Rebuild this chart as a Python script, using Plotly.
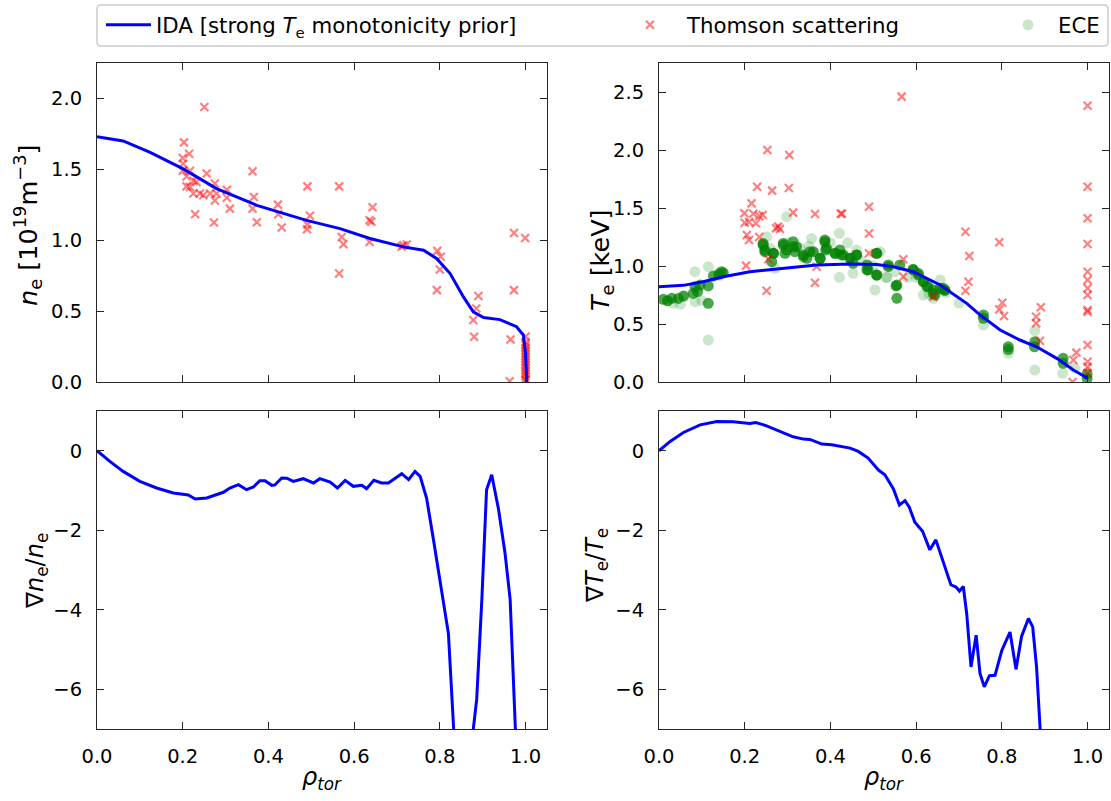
import plotly.graph_objects as go

W, H = 1111, 801
FONT = "DejaVu Sans"

# ---------------- data ----------------
# IDA n_e profile [1e19 m^-3]
ne_rho = [0.0, 0.061, 0.124, 0.2, 0.279, 0.373, 0.489, 0.567, 0.637, 0.715, 0.762, 0.793,
          0.824, 0.855, 0.878, 0.902, 0.94, 0.979, 0.995, 1.0, 1.002, 1.004]
ne_fit = [1.73, 1.70, 1.62, 1.505, 1.364, 1.246, 1.14, 1.082, 1.012, 0.953, 0.93, 0.87,
          0.765, 0.60, 0.495, 0.455, 0.44, 0.39, 0.33, 0.2, 0.05, -0.1]

# Thomson scattering n_e
ts_ne_rho = [0.2505, 0.203, 0.215, 0.2, 0.201, 0.2, 0.217, 0.209, 0.225, 0.209, 0.256, 0.275,
             0.232, 0.217, 0.225, 0.24, 0.248, 0.264, 0.279, 0.275, 0.303, 0.303, 0.31, 0.229,
             0.273, 0.363, 0.366, 0.363, 0.373, 0.422, 0.423, 0.431, 0.491, 0.497, 0.491, 0.49,
             0.565, 0.571, 0.575, 0.565, 0.643, 0.636, 0.64, 0.636, 0.715, 0.723, 0.711, 0.794,
             0.802, 0.8, 0.793, 0.89, 0.885, 0.878, 0.88, 0.973, 0.999, 0.973, 0.965, 0.963,
             1.0, 1.0, 1.0, 1.0, 1.0, 1.0, 1.0, 1.0, 1.0, 1.0, 1.0, 1.0, 1.0, 1.0, 1.0, 1.0]
ts_ne = [1.94, 1.69, 1.61, 1.58, 1.54, 1.49, 1.49, 1.45, 1.42, 1.38, 1.47, 1.40,
         1.41, 1.375, 1.33, 1.33, 1.317, 1.33, 1.33, 1.28, 1.355, 1.30, 1.223, 1.183,
         1.125, 1.486, 1.305, 1.223, 1.127, 1.251, 1.183, 1.09, 1.38, 1.172, 1.11, 1.077,
         1.38, 1.023, 0.972, 0.765, 1.233, 1.141, 1.13, 0.988, 0.965, 0.97, 0.955, 0.925,
         0.883, 0.794, 0.648, 0.606, 0.519, 0.437, 0.319, 1.051, 1.016, 0.648, 0.30, 0.005,
         0.32, 0.28, 0.26, 0.24, 0.22, 0.20, 0.18, 0.16, 0.14, 0.12, 0.10, 0.08, 0.06, 0.04, 0.02, 0.01]

# IDA T_e profile [keV]
te_rho = [0.0, 0.057, 0.103, 0.15, 0.212, 0.29, 0.368, 0.446, 0.508, 0.547, 0.593, 0.656,
          0.718, 0.749, 0.796, 0.842, 0.881, 0.928, 0.967, 0.994, 1.0]
te_fit = [0.822, 0.833, 0.865, 0.908, 0.951, 0.98, 1.009, 1.017, 1.012, 0.994, 0.951, 0.836,
          0.678, 0.578, 0.448, 0.362, 0.304, 0.204, 0.103, 0.046, 0.03]

# Thomson scattering T_e
ts_te_rho = [0.566, 0.253, 0.304, 0.229, 0.264, 0.303, 0.216, 0.199, 0.22, 0.234, 0.242, 0.2,
             0.21, 0.226, 0.313, 0.364, 0.424, 0.427, 0.49, 0.49, 0.205, 0.21, 0.234, 0.273,
             0.278, 0.282, 0.715, 0.724, 0.722, 0.715, 0.794, 0.801, 0.794, 0.805, 0.891, 0.88,
             0.88, 0.889, 0.974, 0.967, 0.965, 0.203, 0.251, 0.364, 0.57, 0.57, 0.49, 0.368,
             0.255, 0.64,
             1.0, 1.0, 1.0, 1.0, 1.0, 1.0, 1.0, 1.0, 1.0, 1.0, 1.0, 1.0, 1.0, 1.0]
ts_te = [2.46, 2.0, 1.957, 1.684, 1.65, 1.672, 1.54, 1.454, 1.45, 1.43, 1.44, 1.373,
         1.38, 1.368, 1.46, 1.448, 1.45, 1.45, 1.51, 1.28, 1.267, 1.224, 1.25, 1.325,
         1.34, 1.32, 1.296, 1.086, 0.865, 0.787, 1.204, 0.684, 0.626, 0.569, 0.644, 0.563,
         0.506, 0.356, 0.253, 0.19, 0.0, 1.003, 0.787, 0.856, 1.058, 0.908, 1.11, 0.994,
         1.058, 0.736,
         2.382, 1.684, 1.411, 1.19, 0.951, 0.879, 0.808, 0.75, 0.621, 0.606, 0.319, 0.175, 0.132, 0.075]

# ECE T_e (densely overlapping channels)
ece_dense_rho = [0.01, 0.03, 0.057, 0.08, 0.084, 0.096, 0.115, 0.127, 0.146, 0.115, 0.243, 0.247,
                 0.267, 0.263, 0.29, 0.294, 0.313, 0.317, 0.337, 0.345, 0.36, 0.376, 0.387, 0.389,
                 0.411, 0.422, 0.43, 0.446, 0.461, 0.485, 0.486, 0.508, 0.508, 0.535, 0.555, 0.555,
                 0.562, 0.593, 0.605, 0.617, 0.625, 0.64, 0.644, 0.663, 0.667, 0.757, 0.757, 0.815,
                 0.815, 0.877, 0.876, 0.943, 0.943, 0.999, 0.999,
                 0.243, 0.247, 0.267, 0.29, 0.298, 0.313, 0.321, 0.337, 0.352, 0.376, 0.387, 0.391,
                 0.411, 0.426, 0.446, 0.461, 0.453, 0.488, 0.508, 0.508, 0.535, 0.553, 0.593, 0.605,
                 0.617, 0.628, 0.64, 0.656, 0.667, 0.02, 0.045, 0.09, 0.14, 0.15]
ece_dense = [0.713, 0.721, 0.741, 0.764, 0.822, 0.836, 0.828, 0.914, 0.951, 0.678, 1.181, 1.123,
             1.109, 1.037, 1.181, 1.109, 1.166, 1.123, 1.095, 1.066, 1.123, 1.066, 1.209, 1.138,
             1.109, 1.138, 1.095, 1.066, 1.095, 0.966, 1.009, 1.109, 0.922, 0.994, 0.836, 0.721,
             1.009, 0.966, 0.922, 0.865, 0.822, 0.793, 0.75, 0.808, 0.79, 0.578, 0.549, 0.304,
             0.28, 0.348, 0.304, 0.204, 0.161, 0.069, 0.03,
             1.195, 1.138, 1.109, 1.195, 1.138, 1.21, 1.166, 1.08, 1.123, 1.066, 1.224, 1.152,
             1.109, 1.095, 1.066, 1.095, 1.023, 0.966, 1.109, 0.922, 1.009, 0.828, 0.971, 0.937,
             0.865, 0.822, 0.764, 0.808, 0.793, 0.70, 0.72, 0.78, 0.93, 0.94]
ece_faint_rho = [0.115, 0.084, 0.084, 0.115, 0.033, 0.298, 0.271, 0.356, 0.421, 0.421, 0.461, 0.504,
                 0.531, 0.251, 0.453, 0.877, 0.877, 0.942, 0.531, 0.617, 0.656, 0.757, 0.815, 0.516,
                 0.02, 0.06, 0.14, 0.33, 0.40, 0.47, 0.58, 0.64, 0.70, 0.97,
                 0.26, 0.30, 0.35, 0.44, 0.50, 0.60, 0.63, 0.67, 0.05, 0.10, 0.36, 0.55]
ece_faint = [0.362, 0.951, 0.692, 0.994, 0.678, 1.425, 0.98, 1.238, 1.282, 0.902, 1.138, 0.793,
             0.902, 1.253, 0.937, 0.442, 0.103, 0.075, 0.9, 0.75, 0.879, 0.491, 0.247, 1.123,
             0.70, 0.74, 0.92, 1.15, 1.20, 1.05, 0.90, 0.72, 0.68, 0.12,
             1.15, 1.20, 1.17, 1.20, 1.00, 0.90, 0.76, 0.77, 0.67, 0.70, 1.12, 0.95]

# normalised gradients
dne_rho = [0.0, 0.03, 0.061, 0.1, 0.139, 0.178, 0.213, 0.229, 0.256, 0.295, 0.31, 0.33, 0.349,
           0.365, 0.38, 0.392, 0.408, 0.415, 0.431, 0.443, 0.458, 0.481, 0.505, 0.52, 0.544,
           0.561, 0.579, 0.598, 0.618, 0.629, 0.646, 0.664, 0.68, 0.711, 0.727, 0.742, 0.754,
           0.769, 0.785, 0.8, 0.82, 0.832, 0.836, 0.855, 0.875, 0.878, 0.886, 0.898, 0.909,
           0.921, 0.937, 0.952, 0.964, 0.976, 0.98]
dne = [0.0, -0.268, -0.519, -0.77, -0.937, -1.062, -1.113, -1.213, -1.188, -1.045, -0.937,
       -0.853, -0.979, -0.912, -0.753, -0.753, -0.87, -0.86, -0.686, -0.69, -0.77, -0.703,
       -0.811, -0.703, -0.786, -0.937, -0.745, -0.895, -0.87, -0.954, -0.745, -0.811, -0.811,
       -0.577, -0.728, -0.519, -0.644, -1.188, -2.233, -3.237, -4.6, -6.96, -8.0, -15.0,
       -8.0, -7.0, -6.25, -3.74, -0.979, -0.602, -1.48, -2.57, -3.74, -6.96, -8.0]

dte_rho = [0.0, 0.026, 0.057, 0.096, 0.135, 0.173, 0.212, 0.226, 0.251, 0.29, 0.313, 0.337,
           0.352, 0.38, 0.403, 0.446, 0.465, 0.488, 0.512, 0.527, 0.547, 0.561, 0.574, 0.584,
           0.597, 0.615, 0.632, 0.646, 0.66, 0.681, 0.693, 0.701, 0.71, 0.718, 0.728, 0.74,
           0.749, 0.759, 0.771, 0.784, 0.8, 0.819, 0.833, 0.846, 0.862, 0.872, 0.881, 0.891, 0.9]
dte = [0.0, 0.234, 0.46, 0.652, 0.736, 0.728, 0.686, 0.711, 0.627, 0.46, 0.351, 0.293,
       0.285, 0.167, 0.15, 0.067, -0.017, -0.184, -0.485, -0.602, -0.962, -1.364, -1.255,
       -1.422, -1.8, -2.025, -2.493, -2.242, -2.677, -3.371, -3.43, -3.53, -3.413, -4.1,
       -5.44, -4.64, -5.6, -5.94, -5.66, -5.65, -5.02, -4.56, -5.5, -4.67, -4.22, -4.43,
       -5.44, -6.98, -9.0]

# tick values
x_ticks = [0.0, 0.2, 0.4, 0.6, 0.8, 1.0]
ne_ticks = [0.0, 0.5, 1.0, 1.5, 2.0]
te_ticks = [0.0, 0.5, 1.0, 1.5, 2.0, 2.5]
grad_ticks = [-6, -4, -2, 0]

# ---------------- figure ----------------
BLUE = "#0000ff"
TS_COL = "rgba(255,0,0,0.5)"

fig = go.Figure()

ts_marker = dict(symbol="x-thin", size=8, line=dict(width=2.2, color=TS_COL), color=TS_COL)

# top-left
fig.add_trace(go.Scatter(x=ts_ne_rho, y=ts_ne, mode="markers", marker=ts_marker,
                         xaxis="x", yaxis="y", showlegend=False))
fig.add_trace(go.Scatter(x=ne_rho, y=ne_fit, mode="lines", line=dict(color=BLUE, width=3),
                         xaxis="x", yaxis="y", showlegend=False))

# top-right
fig.add_trace(go.Scatter(x=ece_faint_rho, y=ece_faint, mode="markers",
                         marker=dict(symbol="circle", size=11, color="rgba(0,128,0,0.2)"),
                         xaxis="x2", yaxis="y2", name="ECE", legend="legend3", showlegend=True))
fig.add_trace(go.Scatter(x=ece_dense_rho, y=ece_dense, mode="markers",
                         marker=dict(symbol="circle", size=11, color="rgba(0,128,0,0.7)"),
                         xaxis="x2", yaxis="y2", showlegend=False))
fig.add_trace(go.Scatter(x=ts_te_rho, y=ts_te, mode="markers", marker=ts_marker,
                         xaxis="x2", yaxis="y2", name="Thomson scattering", legend="legend2",
                         showlegend=True))
fig.add_trace(go.Scatter(x=te_rho, y=te_fit, mode="lines", line=dict(color=BLUE, width=3),
                         xaxis="x2", yaxis="y2",
                         name="IDA [strong <i>T</i><sub>e</sub> monotonicity prior]",
                         legend="legend", showlegend=True))

# bottom
fig.add_trace(go.Scatter(x=dne_rho, y=dne, mode="lines", line=dict(color=BLUE, width=3),
                         xaxis="x3", yaxis="y3", showlegend=False))
fig.add_trace(go.Scatter(x=dte_rho, y=dte, mode="lines", line=dict(color=BLUE, width=3),
                         xaxis="x4", yaxis="y4", showlegend=False))

AX = dict(showline=True, linecolor="#262626", linewidth=1.1, mirror="ticks", ticks="inside",
          ticklen=7, tickwidth=1.1, tickcolor="#262626", showgrid=False, zeroline=False,
          automargin=False,
          tickfont=dict(family=FONT, size=19.5, color="black"), ticklabelstandoff=10)

xl = [97 / W, 547 / W]
xr = [659 / W, 1109 / W]
yt = [1 - 382 / H, 1 - 63 / H]
yb = [1 - 729 / H, 1 - 411 / H]

LEGFONT = dict(family=FONT, size=21.3, color="black")
fig.update_layout(
    width=W, height=H, margin=dict(l=0, r=0, t=0, b=0, autoexpand=False),
    paper_bgcolor="white", plot_bgcolor="white",
    font=dict(family=FONT, size=19, color="black"),
    xaxis=dict(AX, domain=xl, anchor="y", range=[0, 1.05], tickvals=x_ticks, showticklabels=False),
    yaxis=dict(AX, domain=yt, anchor="x", range=[0, 2.25], tickvals=ne_ticks, tickformat=".1f"),
    xaxis2=dict(AX, domain=xr, anchor="y2", range=[0, 1.05], tickvals=x_ticks, showticklabels=False),
    yaxis2=dict(AX, domain=yt, anchor="x2", range=[0, 2.75], tickvals=te_ticks, tickformat=".1f"),
    xaxis3=dict(AX, domain=xl, anchor="y3", range=[0, 1.05], tickvals=x_ticks, tickformat=".1f"),
    yaxis3=dict(AX, domain=yb, anchor="x3", range=[-7, 1], tickvals=grad_ticks),
    xaxis4=dict(AX, domain=xr, anchor="y4", range=[0, 1.05], tickvals=x_ticks, tickformat=".1f"),
    yaxis4=dict(AX, domain=yb, anchor="x4", range=[-7, 1], tickvals=grad_ticks),
    legend=dict(x=101 / W, y=1 - 25 / H, xanchor="left", yanchor="middle", orientation="h",
                bgcolor="rgba(0,0,0,0)", borderwidth=0, itemwidth=45, font=LEGFONT),
    legend2=dict(x=613 / W, y=1 - 25 / H, xanchor="left", yanchor="middle", orientation="h",
                 bgcolor="rgba(0,0,0,0)", borderwidth=0, itemwidth=64, font=LEGFONT),
    legend3=dict(x=998 / W, y=1 - 25 / H, xanchor="left", yanchor="middle", orientation="h",
                 bgcolor="rgba(0,0,0,0)", borderwidth=0, itemwidth=50, font=LEGFONT),
)

# legend frame (rounded)
x0, x1, y0, y1 = 97 / W, 1108 / W, 1 - 46 / H, 1 - 5 / H
rx, ry = 4 / W, 4 / H
path = (f"M {x0+rx},{y1} L {x1-rx},{y1} Q {x1},{y1} {x1},{y1-ry} L {x1},{y0+ry} "
        f"Q {x1},{y0} {x1-rx},{y0} L {x0+rx},{y0} Q {x0},{y0} {x0},{y0+ry} "
        f"L {x0},{y1-ry} Q {x0},{y1} {x0+rx},{y1} Z")
fig.add_shape(type="path", path=path, xref="paper", yref="paper",
              line=dict(color="#cccccc", width=1.5), fillcolor="rgba(255,255,255,0)", layer="below")

TF_BIG = dict(family=FONT, size=25.5, color="black")
TF = dict(family=FONT, size=24, color="black")
ann = [
    dict(text="<i>n</i><sub>e</sub> [10<sup>19</sup>m<sup>−3</sup>]", x=27 / W, y=1 - 225 / H,
         textangle=-90, font=TF_BIG),
    dict(text="<i>T</i><sub>e</sub> [keV]", x=601 / W, y=1 - 260 / H, textangle=-90, font=TF_BIG),
    dict(text="∇<i>n</i><sub>e</sub>/<i>n</i><sub>e</sub>", x=36 / W, y=1 - 571 / H, textangle=-90, font=TF),
    dict(text="∇<i>T</i><sub>e</sub>/<i>T</i><sub>e</sub>", x=596 / W, y=1 - 566 / H, textangle=-90, font=TF),
    dict(text="<i>ρ</i><sub><i>tor</i></sub>", x=322 / W, y=1 - 778 / H, textangle=0, font=TF),
    dict(text="<i>ρ</i><sub><i>tor</i></sub>", x=884 / W, y=1 - 778 / H, textangle=0, font=TF),
]
for a in ann:
    fig.add_annotation(xref="paper", yref="paper", showarrow=False,
                       xanchor="center", yanchor="middle", **a)

fig.write_html("out.html")
